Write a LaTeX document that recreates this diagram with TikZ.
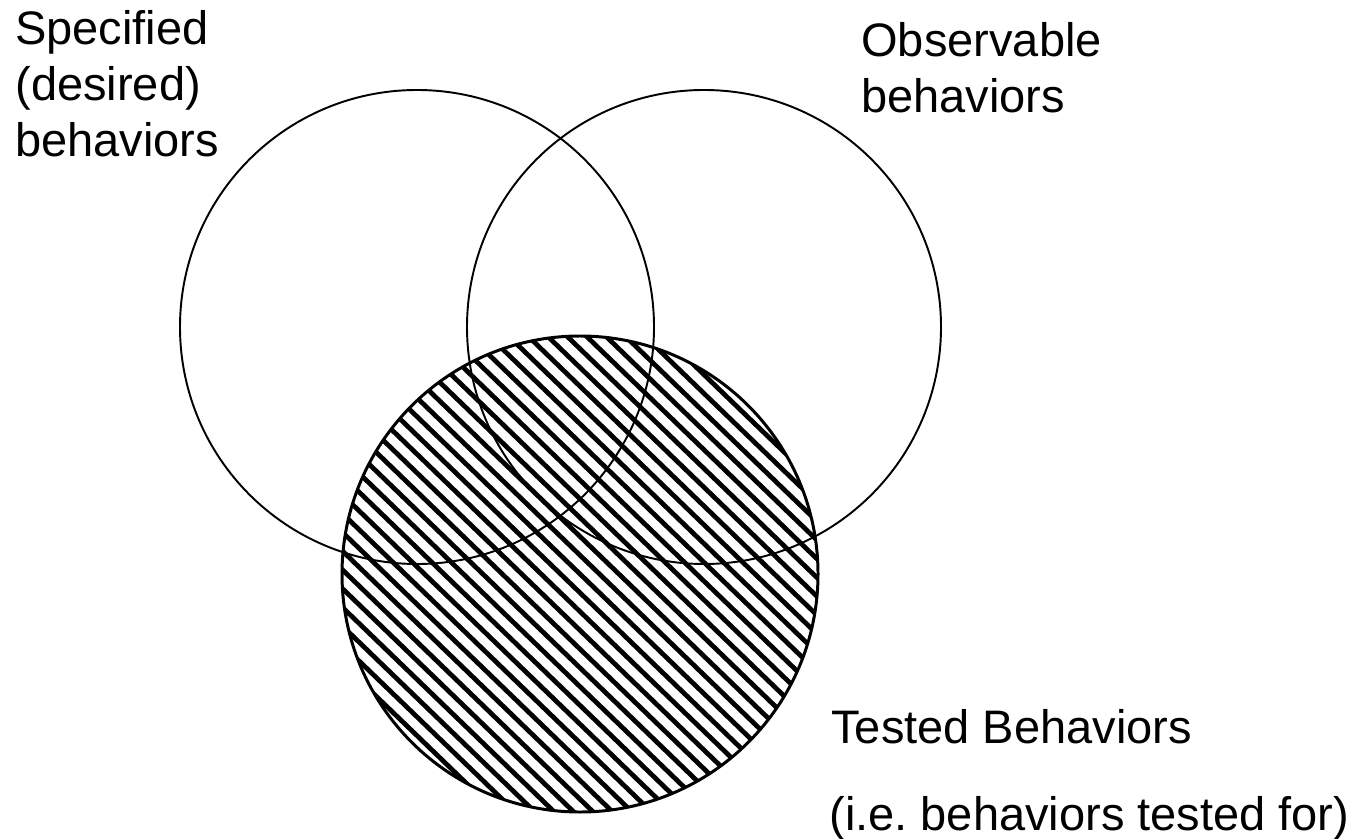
\documentclass[tikz,border=0pt]{standalone}
\usepackage{fontspec}
\setmainfont{Liberation Sans}
\frenchspacing
\tikzset{
  setline/.style={line width=1.1pt},
  testline/.style={line width=1.7pt},
  hatchline/.style={line width=2.7pt},
  label/.style={inner sep=0pt, anchor=base west, align=left,
    font=\fontsize{26.75}{31.9}\selectfont}
}
\begin{document}
\begin{tikzpicture}
        \useasboundingbox (0,0) rectangle (27.4,16.76);
        \coordinate (specified) at (8.34, 10.22);
        \coordinate (observable) at (14.08, 10.22);
        \coordinate (tested) at (11.6, 5.28);
        % hatching of the tested set
        \begin{scope}
            \clip (tested) circle (4.76);
            \begin{scope}[shift={(tested)}, rotate=-44]
                \foreach \i in {-18,...,18}{
                    \draw[hatchline] (-5, \i*0.27) -- (5, \i*0.27);
                }
            \end{scope}
        \end{scope}
        \draw[setline] (specified) circle (4.74);
        \draw[setline] (observable) circle (4.74);
        \draw[testline] (tested) circle (4.76);
        \node[label] (spectext) at (0.30, 13.62) {Specified\\(desired)\\behaviors};
        \node[label] (obstext) at (17.22, 14.50) {Observable\\behaviors};
        \node[label] (testtext) at (16.62, 1.90) {Tested Behaviors};
        \node[label] (testnote) at (16.58, 0.16) {(i.e. behaviors tested for)};
    \end{tikzpicture}
\end{document}
